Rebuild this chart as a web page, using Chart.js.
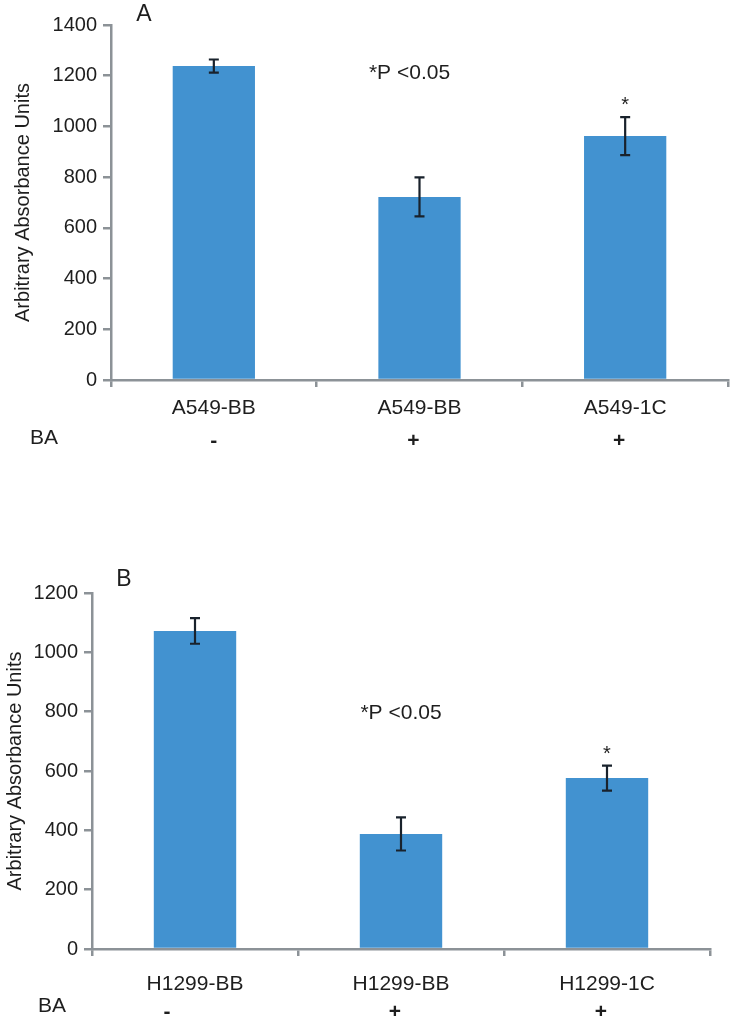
<!DOCTYPE html>
<html>
<head>
<meta charset="utf-8">
<script src="https://cdn.jsdelivr.net/npm/chart.js@4.4.0/dist/chart.umd.min.js"></script>
<style>
  body { margin: 0; background: #fff; }
  .panel { position: absolute; left: 0; width: 737px; }
  #wrapA { top: 0; height: 460px; }
  #wrapB { top: 540px; height: 486px; }
</style>
</head>
<body>
<div class="panel" id="wrapA"><canvas id="chartA" width="737" height="460"></canvas></div>
<div class="panel" id="wrapB"><canvas id="chartB" width="737" height="486"></canvas></div>
<script>
// --- data ---
const labelsA = ['A549-BB', 'A549-BB', 'A549-1C'];
const valuesA = [1238, 722, 962];
const errorsA = [26, 77, 75];

const labelsB = ['H1299-BB', 'H1299-BB', 'H1299-1C'];
const valuesB = [1072, 388, 576];
const errorsB = [43, 56, 42];

const baTreatment = ['-', '+', '+'];
const significant = [false, false, true];
const yMaxA = 1400;
const yMaxB = 1200;
const yStep = 200;

const FONT = "'Liberation Sans', Arial, sans-serif";
const BAR = '#4292d0';
const AXIS = '#8c9297';
const TEXT = '#1e1e1e';

// error bars, stars, p-value note, panel letter, BA row
const extras = {
  id: 'extras',
  afterDatasetsDraw(chart, args, o) {
    const { ctx, scales: { x, y }, chartArea } = chart;
    ctx.save();
    ctx.strokeStyle = '#19222c';
    ctx.lineWidth = 2.2;
    o.values.forEach((v, i) => {
      const cx = x.getPixelForValue(i);
      const top = y.getPixelForValue(v + o.errors[i]);
      const bot = y.getPixelForValue(v - o.errors[i]);
      ctx.beginPath();
      ctx.moveTo(cx, top); ctx.lineTo(cx, bot);
      ctx.moveTo(cx - 5, top); ctx.lineTo(cx + 5, top);
      ctx.moveTo(cx - 5, bot); ctx.lineTo(cx + 5, bot);
      ctx.stroke();
      if (significant[i]) {
        ctx.fillStyle = TEXT;
        ctx.font = `20px ${FONT}`;
        ctx.textAlign = 'center';
        ctx.textBaseline = 'alphabetic';
        ctx.fillText('*', cx, top - 6);
      }
    });

    ctx.fillStyle = TEXT;
    ctx.font = `21px ${FONT}`;
    ctx.textAlign = 'center';
    ctx.textBaseline = 'middle';
    ctx.fillText('*P <0.05', x.getPixelForValue(1) + o.noteShift, y.getPixelForValue(o.noteAt));

    ctx.font = `23px ${FONT}`;
    ctx.fillText(o.letter, o.letterX, o.letterY);

    // BA treatment row under the category labels
    ctx.font = `21px ${FONT}`;
    const rowY = chartArea.bottom + o.rowGap;
    ctx.textAlign = 'left';
    ctx.fillText('BA', o.baX, rowY - o.baLift);
    ctx.font = `bold 21px ${FONT}`;
    ctx.textAlign = 'center';
    baTreatment.forEach((s, i) => {
      ctx.fillText(s, x.getPixelForValue(i) + (i === 0 ? o.minusShift : -6), rowY);
    });
    ctx.restore();
  }
};

function makeChart(id, labels, values, errors, yMax, geom) {
  const canvas = document.getElementById(id);
  return new Chart(canvas.getContext('2d'), {
    type: 'bar',
    data: {
      labels,
      datasets: [{
        data: values,
        backgroundColor: BAR,
        borderWidth: 0,
        barPercentage: 0.4,
        categoryPercentage: 1.0
      }]
    },
    options: {
      responsive: false,
      animation: false,
      layout: { padding: { left: 0, top: geom.top, right: geom.right, bottom: 0 } },
      plugins: {
        legend: { display: false },
        tooltip: { enabled: false },
        extras: Object.assign({ values, errors }, geom.extras)
      },
      scales: {
        x: {
          grid: { display: true, drawOnChartArea: false, offset: true, tickLength: 7, color: AXIS, lineWidth: 2.5 },
          border: { color: AXIS, width: 2.5 },
          ticks: { color: TEXT, font: { family: FONT, size: 21 }, padding: geom.xPad, maxRotation: 0 },
          afterFit: s => { s.height = geom.xHeight; }
        },
        y: {
          min: 0,
          max: yMax,
          ticks: { stepSize: yStep, color: TEXT, font: { family: FONT, size: 20 }, padding: 6,
                   callback: v => String(v) },
          grid: { display: true, drawOnChartArea: false, tickLength: 8, color: AXIS, lineWidth: 2.5 },
          border: { color: AXIS, width: 2.5 },
          title: {
            display: true,
            text: 'Arbitrary Absorbance Units',
            color: TEXT,
            font: { family: FONT, size: 20 },
            padding: { top: geom.titlePad, bottom: 0 }
          },
          afterFit: s => { s.width = geom.yWidth; }
        }
      }
    },
    plugins: [extras]
  });
}

makeChart('chartA', labelsA, valuesA, errorsA, yMaxA, {
  top: 25, right: 9, xHeight: 80, yWidth: 111, titlePad: 11, xPad: 9,
  extras: { letter: 'A', letterX: 144, letterY: 15, noteAt: 1211, noteShift: -10,
            baX: 30, rowGap: 61, baLift: 3, minusShift: 0 }
});

makeChart('chartB', labelsB, valuesB, errorsB, yMaxB, {
  top: 53, right: 27, xHeight: 77, yWidth: 92, titlePad: 3, xPad: 16,
  extras: { letter: 'B', letterX: 124, letterY: 40, noteAt: 795, noteShift: 0,
            baX: 38, rowGap: 63, baLift: 6, minusShift: -28 }
});
</script>
</body>
</html>
